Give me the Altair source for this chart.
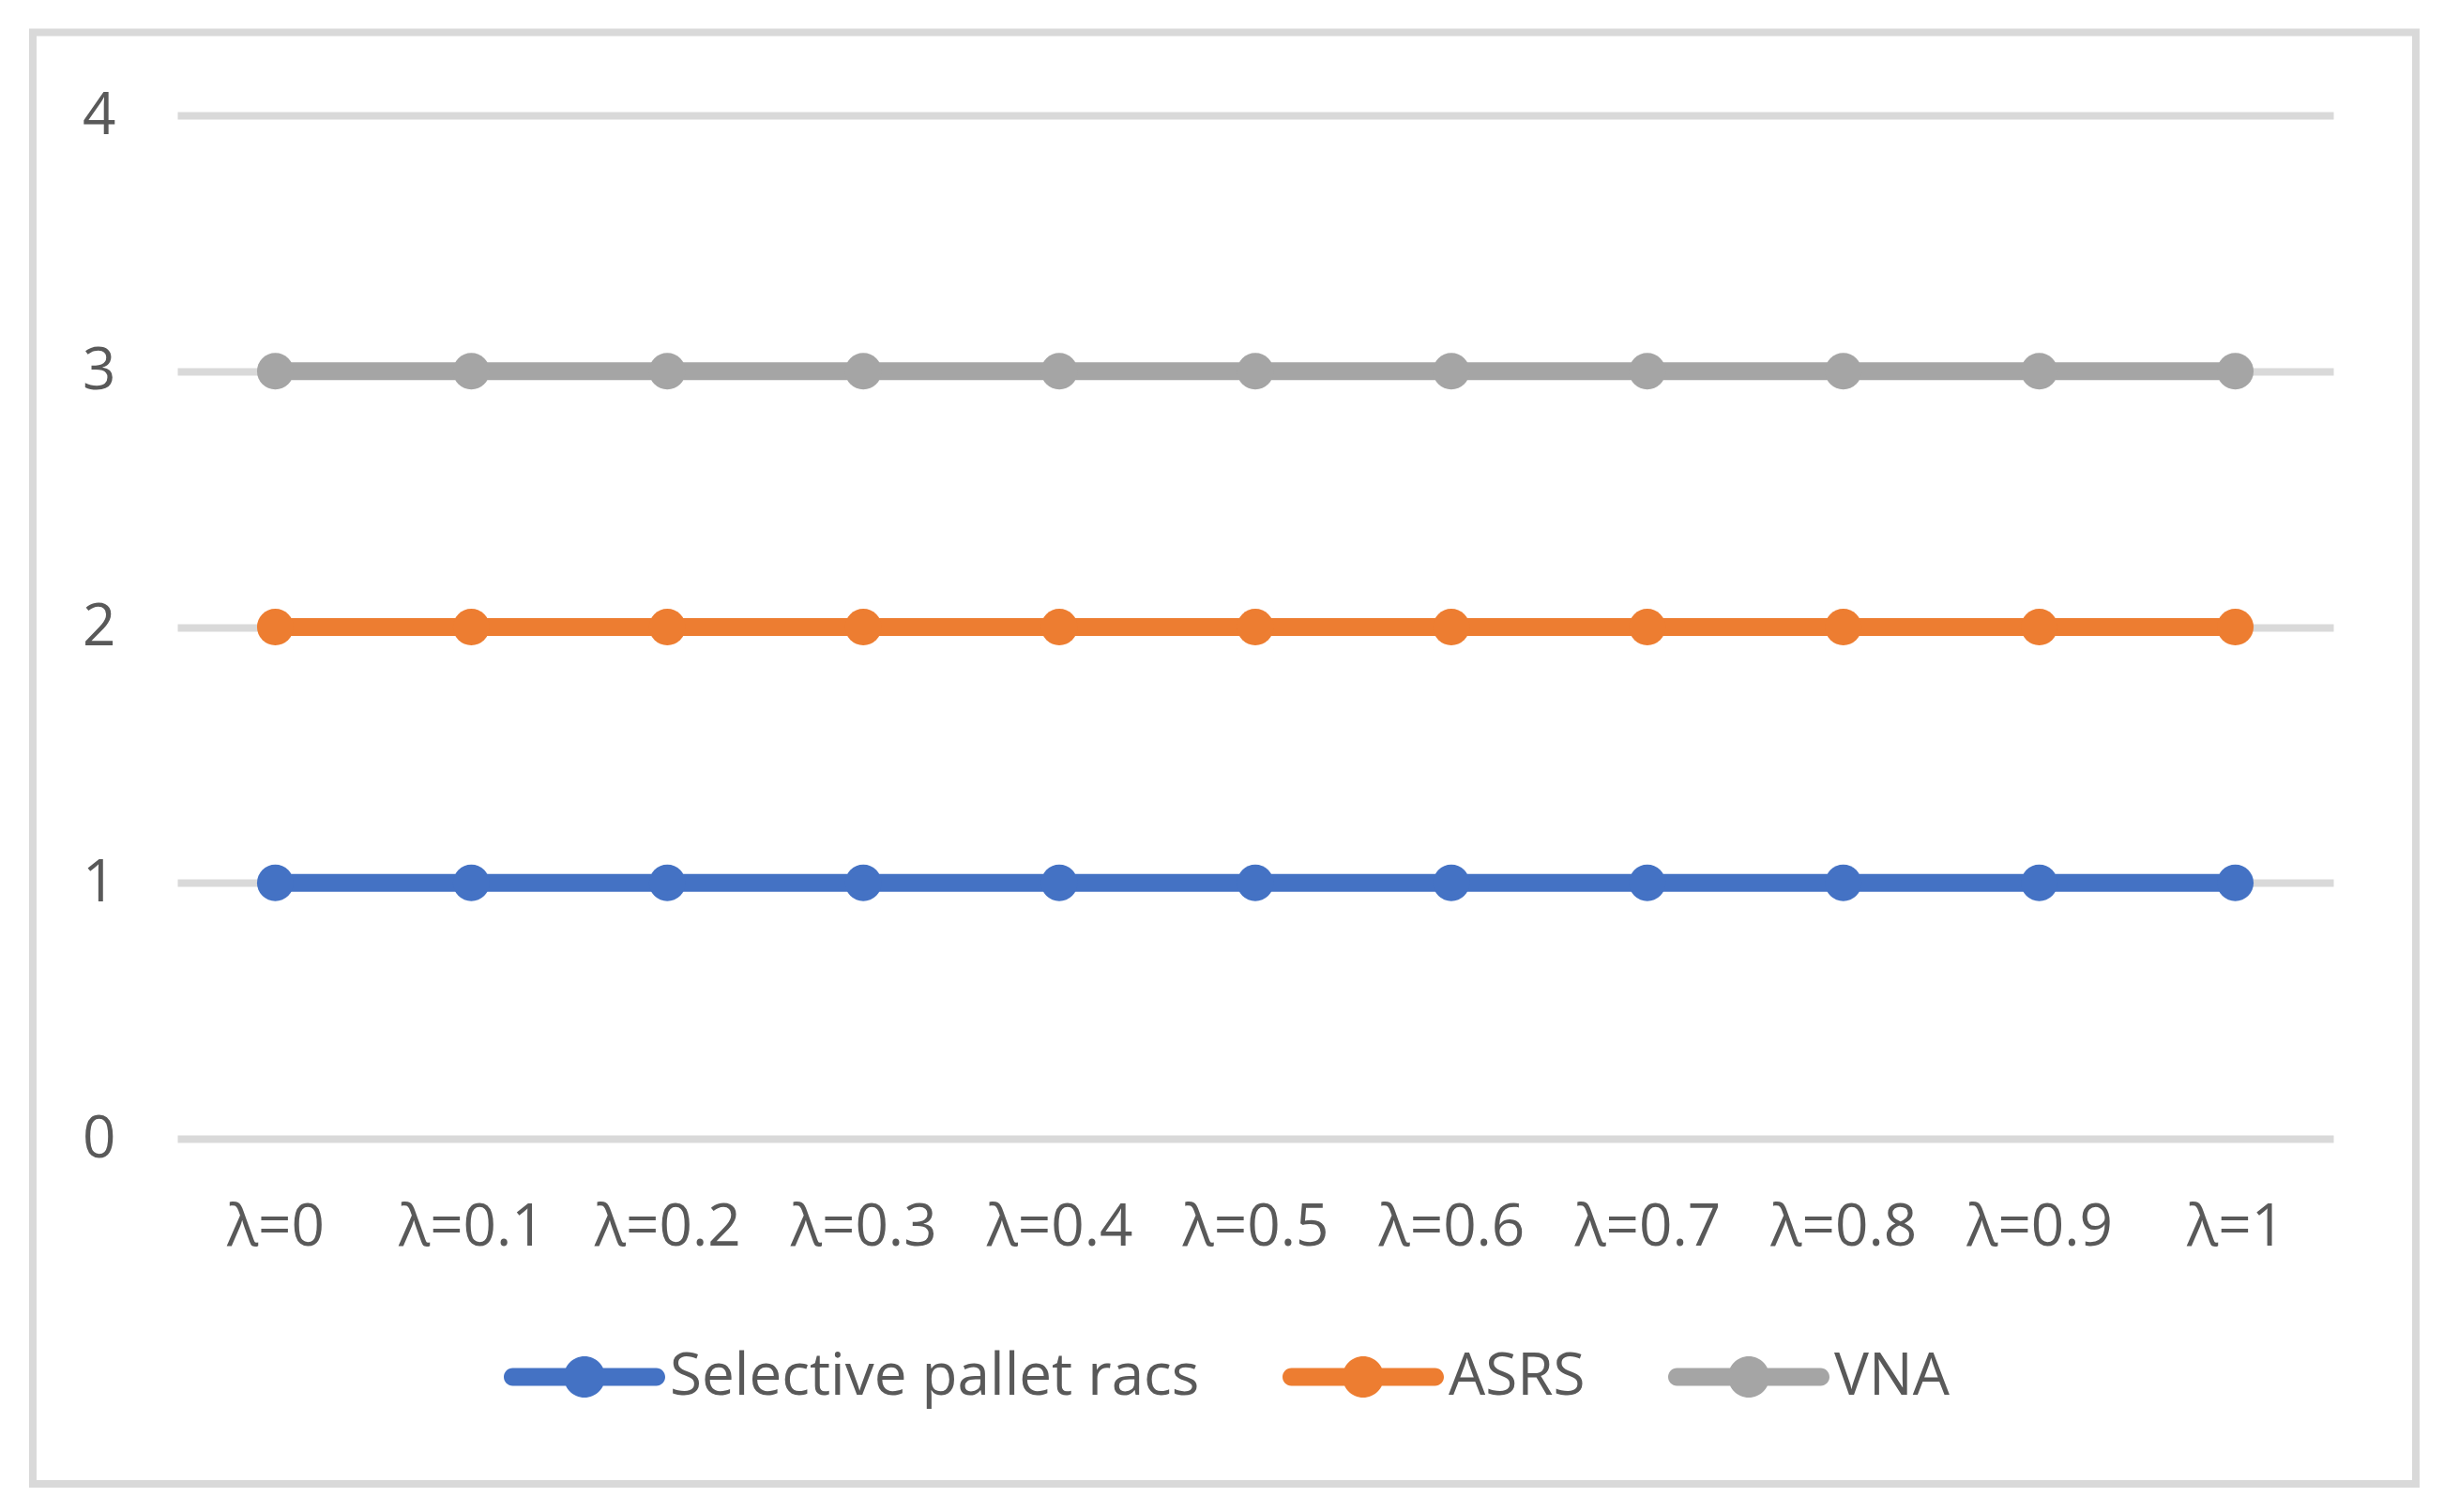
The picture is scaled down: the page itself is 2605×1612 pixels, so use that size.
import altair as alt
import pandas as pd

categories = ["λ=0", "λ=0.1", "λ=0.2", "λ=0.3", "λ=0.4", "λ=0.5",
              "λ=0.6", "λ=0.7", "λ=0.8", "λ=0.9", "λ=1"]
series_names = ["Selective pallet racs", "ASRS", "VNA"]
selective_vals = [1, 1, 1, 1, 1, 1, 1, 1, 1, 1, 1]
asrs_vals = [2, 2, 2, 2, 2, 2, 2, 2, 2, 2, 2]
vna_vals = [3, 3, 3, 3, 3, 3, 3, 3, 3, 3, 3]
colors = ["#4472C4", "#ED7D31", "#A5A5A5"]
y_ticks = [0, 1, 2, 3, 4]

rows = []
for name, vals in zip(series_names, [selective_vals, asrs_vals, vna_vals]):
    for c, v in zip(categories, vals):
        rows.append({"cat": c, "value": v, "series": name})
df = pd.DataFrame(rows)

FONT = "Open Sans"
TXT = "#595959"
GRID = "#D9D9D9"

W, H = 2298, 1091

legend_path = ("M-0.89,-0.11 H0.89 A0.11,0.11,0,0,1,0.89,0.11 H-0.89 "
               "A0.11,0.11,0,0,1,-0.89,-0.11 Z "
               "M0.256,0 A0.256,0.256,0,1,1,-0.256,0 A0.256,0.256,0,1,1,0.256,0 Z")

x_enc = alt.X("cat:N", sort=categories, scale=alt.Scale(domain=categories, padding=0.5),
              axis=alt.Axis(title=None, labelAngle=0, ticks=False, domain=False, grid=False,
                            labelPadding=64, labelFontSize=62, labelFont=FONT,
                            labelColor=TXT))
y_enc = alt.Y("value:Q", scale=alt.Scale(domain=[0, 4], nice=False, zero=True),
              axis=alt.Axis(title=None, values=y_ticks, ticks=False, domain=False,
                            grid=True, gridColor=GRID, gridWidth=8, gridCap="butt",
                            labelPadding=66, labelFontSize=62, labelFont=FONT,
                            labelColor=TXT, labelBaseline="middle"))
color_enc = alt.Color("series:N", sort=series_names,
                      scale=alt.Scale(domain=series_names, range=colors),
                      legend=alt.Legend(title=None, orient="none", direction="horizontal",
                                        legendX=348, legendY=1259,
                                        symbolType=legend_path, symbolSize=29584,
                                        symbolStrokeWidth=0, symbolOpacity=1,
                                        labelFontSize=62, labelFont=FONT, labelColor=TXT,
                                        labelOffset=5, columnPadding=88,
                                        labelLimit=1000))

base = alt.Chart(df)
lines = base.mark_line(strokeWidth=19).encode(x=x_enc, y=y_enc, color=color_enc,
                                             detail="series:N")
points = base.mark_point(filled=True, size=1520, opacity=1, shape="circle").encode(
    x=x_enc, y=y_enc, color=alt.Color("series:N", sort=series_names,
                                      scale=alt.Scale(domain=series_names, range=colors),
                                      legend=None))

frame = alt.Chart(alt.Data(values=[{"k": 1}])).mark_rect(
    fill="transparent", stroke=GRID, strokeWidth=8).encode(
    x=alt.value(-154), x2=alt.value(2386), y=alt.value(-88.5), y2=alt.value(1459))

chart = alt.layer(frame, lines, points).properties(
    width=W, height=H,
    background="white",
    autosize=alt.AutoSizeParams(type="none"),
    padding={"left": 181, "top": 115, "right": 100, "bottom": 380},
).configure_view(stroke=None, strokeWidth=0)

chart.save("out.html", embed_options={"renderer": "svg", "actions": False})
